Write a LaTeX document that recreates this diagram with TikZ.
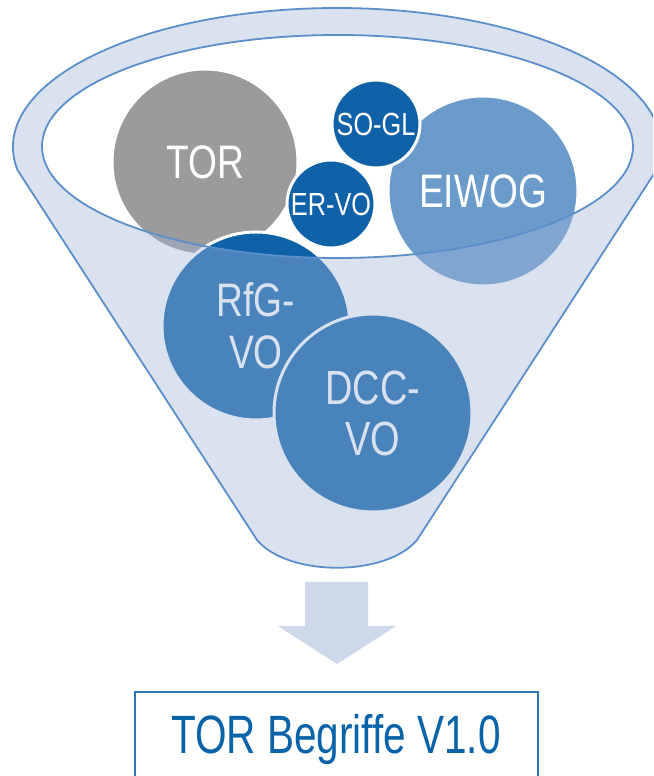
\documentclass[tikz,border=0pt]{standalone}
\usepackage{fontspec}
\setmainfont{Liberation Sans}
\newfontfamily\lblfont[FakeStretch=0.79]{Liberation Sans}
\newfontfamily\titlefont[FakeStretch=0.75]{Liberation Sans}

\definecolor{rimline}{RGB}{91,143,203}
\definecolor{glass}{RGB}{162,182,217}
\definecolor{torgray}{RGB}{155,155,157}
\definecolor{deepblue}{RGB}{15,98,168}
\definecolor{midblue}{RGB}{106,155,203}
\definecolor{arrowfill}{RGB}{205,217,234}
\definecolor{boxline}{RGB}{47,117,181}
\definecolor{boxtext}{RGB}{8,99,169}

\begin{document}
\begin{tikzpicture}[x=1pt,y=1pt,
  bubble/.style={circle, draw=white, line width=3pt, inner sep=0pt,
    text=white, align=center},
  biglbl/.style={font=\lblfont\fontsize{47}{52}\selectfont},
  smalllbl/.style={font=\lblfont\fontsize{32}{36}\selectfont},
  rim/.style={draw=rimline, line width=1.8pt, fill=glass, fill opacity=0.4,
    even odd rule},
  bigarrow/.style={fill=arrowfill, draw=none},
  resultbox/.style={draw=boxline, line width=1.6pt},
  resulttext/.style={text=boxtext, font=\titlefont\fontsize{54}{60}\selectfont,
    inner sep=0pt}
]
\useasboundingbox (0,0) rectangle (653,776);
\clip (0,0) rectangle (653,776);

% bubbles inside the funnel
\node[bubble, fill=torgray, minimum size=186pt, biglbl] (tor) at (205,614) {TOR};
\node[bubble, fill=midblue, minimum size=190pt, biglbl] (eiwog) at (483,585) {EIWOG};
\node[bubble, fill=deepblue, minimum size=88pt, smalllbl] (ervo) at (331,572) {ER-VO};
\node[bubble, fill=deepblue, minimum size=88pt, smalllbl] (sogl) at (376,652) {SO-GL};
\node[bubble, fill=deepblue, minimum size=188pt, biglbl] (rfg) at (256,450) {RfG-\\VO};
\node[bubble, fill=deepblue, minimum size=198pt,
      font=\lblfont\fontsize{48}{51}\selectfont] (dcc) at (373,363) {DCC-\\VO};

% translucent funnel body with its open top
\path[rim]
  (337,629) ++(189.5:324pt and 139pt)
  arc[start angle=189.5, end angle=-9.5, x radius=324pt, y radius=139pt]
  -- (417,236)
  .. controls (386,199) and (288,199) .. (257,236)
  -- cycle
  (337.5,629.5) ellipse[x radius=295.5pt, y radius=111.5pt];

% downward arrow
\path[bigarrow] (305,194) -- (368,194) -- (368,150) -- (396,150)
  -- (337,112) -- (278,150) -- (305,150) -- cycle;

% result box
\node[resulttext, anchor=base] (result) at (336,23) {TOR Begriffe V1.0};
\draw[resultbox] (135,-10) rectangle (538,84);
\end{tikzpicture}
\end{document}
